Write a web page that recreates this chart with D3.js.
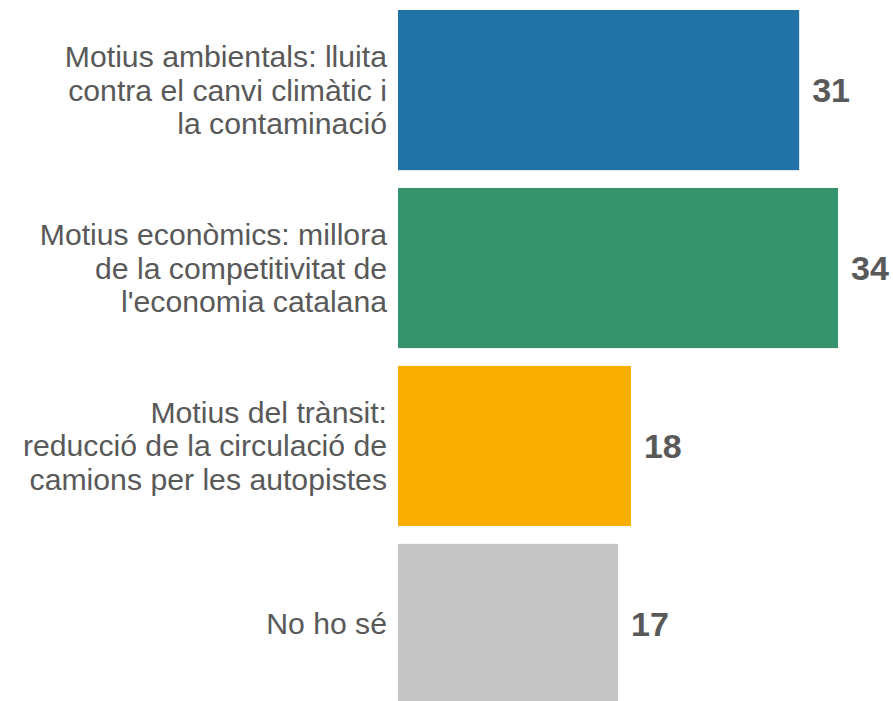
<!DOCTYPE html>
<html>
<head>
<meta charset="utf-8">
<script src="https://cdn.jsdelivr.net/npm/d3@7"></script>
<style>
  body { margin: 0; background: #fff; }
  svg { display: block; }
</style>
</head>
<body>
<div class="a"></div>
<script>
var categories = ["amb", "eco", "tra", "ns"]
var labels = [
    ["Motius ambientals: lluita", "contra el canvi climàtic i", "la contaminació"],
    ["Motius econòmics: millora", "de la competitivitat de", "l'economia catalana"],
    ["Motius del trànsit:", "reducció de la circulació de", "camions per les autopistes"],
    ["No ho sé"]
]
var values = [31, 34, 18, 17]
var colors = ["#2273a5", "#35946d", "#f9ae00", "#c5c5c5"]

var w = 893
var h = 701

var svg = d3.select(".a").append("svg")
    .attr("width", w)
    .attr("height", h)

var x = d3.scaleLinear()
    .domain([0, 34])
    .range([398, 838])

var y = d3.scaleBand()
    .domain(categories)
    .range([10, 704])
    .paddingInner(0.1)
    .paddingOuter(0)

var rows = categories.map(function(c, i) {
    return {id: c, value: values[i], color: colors[i], lines: labels[i]}
})

svg.append("g")
    .attr("class", "bars")
    .selectAll("rect")
    .data(rows)
    .enter().append("rect")
    .attr("x", x(0))
    .attr("y", function(d) { return y(d.id) })
    .attr("width", function(d) { return x(d.value) - x(0) })
    .attr("height", y.bandwidth())
    .attr("fill", function(d) { return d.color })

// value labels, bold, just right of each bar
svg.append("g")
    .attr("class", "values")
    .selectAll("text")
    .data(rows)
    .enter().append("text")
    .attr("x", function(d) { return x(d.value) + 13 })
    .attr("y", function(d) { return y(d.id) + y.bandwidth() / 2 + 12 })
    .attr("font-family", "'Liberation Sans', Arial, sans-serif")
    .attr("font-size", 34)
    .attr("font-weight", "bold")
    .attr("fill", "#595959")
    .text(function(d) { return d.value })

// category labels, right aligned, centred on the bar
var lineH = 33.5
var cat = svg.append("g")
    .attr("class", "cats")
    .selectAll("text")
    .data(rows)
    .enter().append("text")
    .attr("text-anchor", "end")
    .attr("font-family", "'Liberation Sans', Arial, sans-serif")
    .attr("font-size", 30.2)
    .attr("fill", "#595959")

cat.selectAll("tspan")
    .data(function(d) {
        var mid = y(d.id) + y.bandwidth() / 2 + 10.5
        var n = d.lines.length
        return d.lines.map(function(t, i) {
            return {t: t, y: mid + (i - (n - 1) / 2) * lineH}
        })
    })
    .enter().append("tspan")
    .attr("x", 387)
    .attr("y", function(d) { return d.y })
    .text(function(d) { return d.t })
</script>
</body>
</html>
